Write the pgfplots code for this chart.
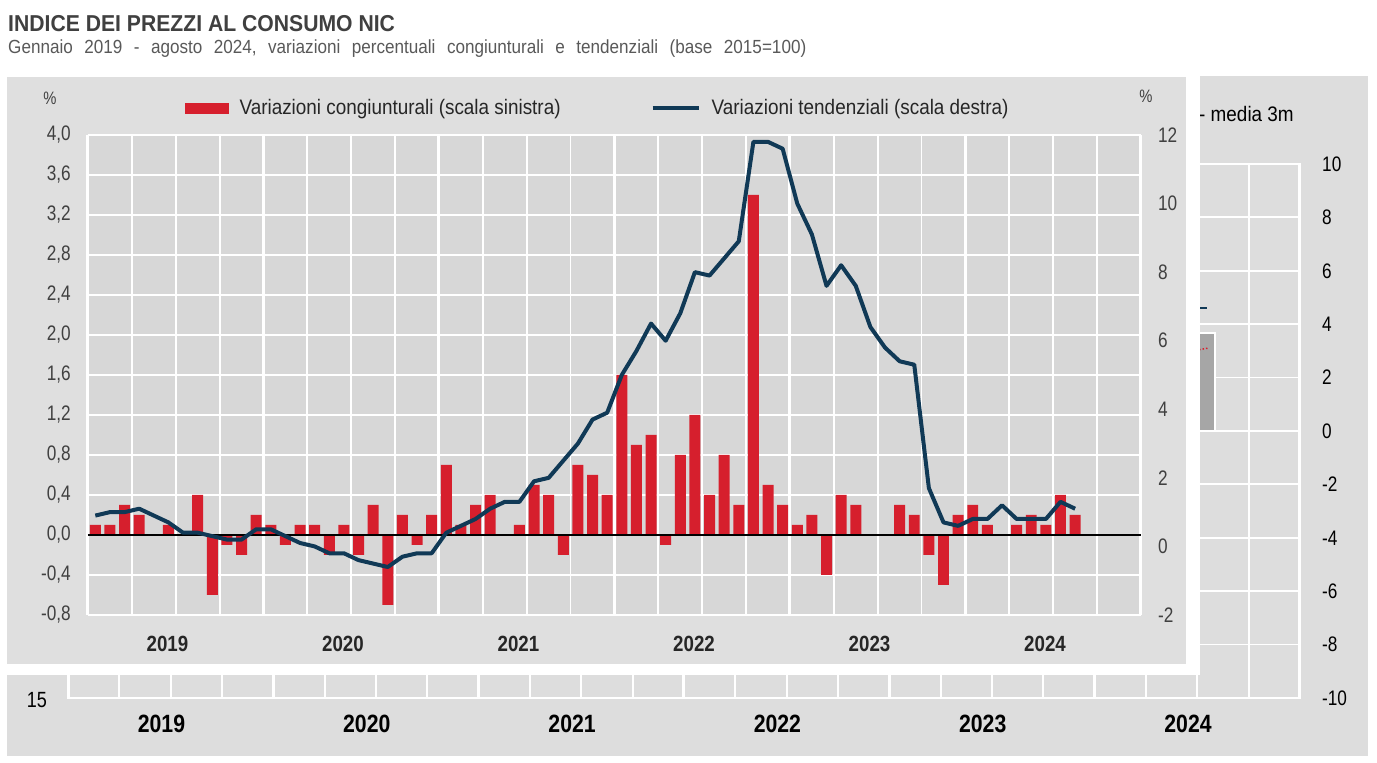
\documentclass[border=0pt]{standalone}
\usepackage{pgfplots}
\usepackage{pgfplotstable}
\pgfplotsset{compat=1.18}
\usepackage{fontspec}
\setmainfont{Liberation Sans}
\newfontfamily\fnar{Liberation Sans}[FakeStretch=0.82]
\newfontfamily\fmid{Liberation Sans}[FakeStretch=0.9]
\newfontfamily\ftit{Liberation Sans}[FakeStretch=0.92]
\newfontfamily\fsub{Liberation Sans}[FakeStretch=0.9]
\newfontfamily\fyr{Liberation Sans}[FakeStretch=0.85]
\definecolor{ired}{RGB}{214,31,45}
\definecolor{inavy}{RGB}{16,57,86}
\definecolor{mainpanel}{RGB}{223,223,223}
\definecolor{plotbg}{RGB}{215,215,215}
\definecolor{bgpanel}{RGB}{221,221,221}
\definecolor{bgbar}{RGB}{166,166,166}
\definecolor{ticktext}{RGB}{64,64,64}
\definecolor{titletext}{RGB}{64,64,64}
\definecolor{subtext}{RGB}{89,89,89}
\definecolor{yeartext}{RGB}{38,38,38}
\definecolor{legtext}{RGB}{38,38,38}

\pgfplotstableread{
x cong tend
0.5 0.1 0.9
1.5 0.1 1.0
2.5 0.3 1.0
3.5 0.2 1.1
4.5 0.0 0.9
5.5 0.1 0.7
6.5 0.0 0.4
7.5 0.4 0.4
8.5 -0.6 0.3
9.5 -0.1 0.2
10.5 -0.2 0.2
11.5 0.2 0.5
12.5 0.1 0.5
13.5 -0.1 0.3
14.5 0.1 0.1
15.5 0.1 0.0
16.5 -0.2 -0.2
17.5 0.1 -0.2
18.5 -0.2 -0.4
19.5 0.3 -0.5
20.5 -0.7 -0.6
21.5 0.2 -0.3
22.5 -0.1 -0.2
23.5 0.2 -0.2
24.5 0.7 0.4
25.5 0.1 0.6
26.5 0.3 0.8
27.5 0.4 1.1
28.5 0.0 1.3
29.5 0.1 1.3
30.5 0.5 1.9
31.5 0.4 2.0
32.5 -0.2 2.5
33.5 0.7 3.0
34.5 0.6 3.7
35.5 0.4 3.9
36.5 1.6 5.0
37.5 0.9 5.7
38.5 1.0 6.5
39.5 -0.1 6.0
40.5 0.8 6.8
41.5 1.2 8.0
42.5 0.4 7.9
43.5 0.8 8.4
44.5 0.3 8.9
45.5 3.4 11.8
46.5 0.5 11.8
47.5 0.3 11.6
48.5 0.1 10.0
49.5 0.2 9.1
50.5 -0.4 7.6
51.5 0.4 8.2
52.5 0.3 7.6
53.5 0.0 6.4
54.5 0.0 5.8
55.5 0.3 5.4
56.5 0.2 5.3
57.5 -0.2 1.7
58.5 -0.5 0.7
59.5 0.2 0.6
60.5 0.3 0.8
61.5 0.1 0.8
62.5 0.0 1.2
63.5 0.1 0.8
64.5 0.2 0.8
65.5 0.1 0.8
66.5 0.4 1.3
67.5 0.2 1.1
}\datatab

\begin{document}
\begin{tikzpicture}
\fill[white] (0pt,0pt) rectangle (1377pt,763pt);
\fill[bgpanel] (7pt,7pt) rectangle (1368pt,687pt);

% background (occluded) chart
\begin{axis}[at={(68pt,65pt)}, anchor=south west, scale only axis, width=1232pt, height=534pt,
  xmin=0, xmax=24, ymin=-10, ymax=10,
  axis background/.style={fill=bgpanel},
  axis line style={draw=white, line width=2.4pt},
  major tick length=0pt,
  xtick={0,1,...,24}, xticklabels={}, xmajorgrids,
  extra x ticks={0,4,...,24}, extra x tick labels={},
  extra x tick style={grid=major, major grid style={white, line width=3pt}},
  ytick={-10,-8,...,10}, ymajorgrids, yticklabel pos=right,
  major grid style={white, line width=1.8pt},
  yticklabel style={font=\fnar\fontsize{21}{21}\selectfont, text=black, anchor=west, inner sep=0pt, xshift=22pt},
  /pgf/number format/assume math mode=true]
\addplot[ybar, bar width=0.59, bar shift=0pt, fill=bgbar, draw=white, line width=1.5pt] coordinates {(22.05,3.67)};
\addplot[inavy, line width=2pt] coordinates {(21.9,4.6) (22.19,4.6)};
\addplot[ired, line width=1.5pt, dotted] coordinates {(21.9,3.0) (22.2,3.1)};
\end{axis}
\node[anchor=west, inner sep=0pt] at (1199pt,648.5pt) {\fmid\fontsize{21}{21}\selectfont - media 3m};
\node[inner sep=0pt] at (37pt,63pt) {\fnar\fontsize{22}{22}\selectfont 15};
\foreach \yr [count=\k from 0] in {2019,2020,2021,2022,2023,2024}
  \node[inner sep=0pt, text=black] at ({161.5pt+205.3pt*\k},39pt) {\fyr\bfseries\fontsize{25}{25}\selectfont \yr};

% white gap and main panel
\fill[white] (0pt,88pt) rectangle (1200pt,763pt);
\fill[mainpanel] (7pt,99pt) rectangle (1186pt,686pt);

% main chart: bars (left scale)
\begin{axis}[at={(88pt,148pt)}, anchor=south west, scale only axis, width=1053pt, height=480pt,
  xmin=0, xmax=72, ymin=-0.8, ymax=4.0,
  axis background/.style={fill=plotbg},
  axis line style={draw=none},
  major tick length=0pt,
  xtick={0,3,...,72}, xticklabels={}, xmajorgrids,
  extra x ticks={0,12,...,72}, extra x tick labels={},
  extra x tick style={grid=major, major grid style={white, line width=3pt}},
  ytick={-0.8,-0.4,0,0.4,0.8,1.2,1.6,2.0,2.4,2.8,3.2,3.6,4.0}, ymajorgrids,
  major grid style={white, line width=1.8pt},
  yticklabel style={font=\fnar\fontsize{21}{21}\selectfont, text=ticktext, anchor=east, inner sep=0pt, xshift=-17pt},
  /pgf/number format/fixed, /pgf/number format/fixed zerofill, /pgf/number format/precision=1,
  /pgf/number format/use comma, /pgf/number format/assume math mode=true]
\addplot[ybar, bar width=0.75, bar shift=0pt, fill=ired, draw=none] table[x=x, y=cong] {\datatab};
\draw[black, line width=1.4pt] (axis cs:0,0) -- (axis cs:72,0);
\end{axis}

% main chart: line (right scale)
\begin{axis}[at={(88pt,148pt)}, anchor=south west, scale only axis, width=1053pt, height=480pt,
  xmin=0, xmax=72, ymin=-2, ymax=12,
  hide x axis, axis y line*=right, axis line style={draw=none},
  major tick length=0pt,
  ytick={-2,0,...,12},
  yticklabel style={font=\fnar\fontsize{21}{21}\selectfont, text=ticktext, anchor=west, inner sep=0pt, xshift=17pt},
  /pgf/number format/assume math mode=true,
  legend columns=2, legend cell align=left,
  legend style={at={(axis description cs:0.0921,1.0566)}, anchor=west, draw=none, fill=none, inner sep=0pt,
    font=\fmid\fontsize{21}{21}\selectfont, text=legtext,
    /tikz/every odd column/.append style={column sep=9pt},
    /tikz/every even column/.append style={column sep=88pt}}]
\addlegendimage{legend image code/.code={\fill[ired] (0pt,-5pt) rectangle (43pt,5pt);}}
\addlegendentry{Variazioni congiunturali (scala sinistra)}
\addplot[inavy, line width=4pt, line join=round,
  legend image code/.code={\draw[inavy, line width=4pt] (0pt,0pt) -- (46pt,0pt);}] table[x=x, y=tend] {\datatab};
\addlegendentry{Variazioni tendenziali (scala destra)}
\end{axis}

% labels
\node[inner sep=0pt, text=ticktext] at (50pt,665pt) {\fnar\fontsize{18}{18}\selectfont \%};
\node[inner sep=0pt, text=ticktext] at (1146pt,666.5pt) {\fnar\fontsize{18}{18}\selectfont \%};
\foreach \yr [count=\k from 0] in {2019,2020,2021,2022,2023,2024}
  \node[inner sep=0pt, text=yeartext] at ({167.5pt+175.5pt*\k},119.5pt) {\fyr\bfseries\fontsize{22}{22}\selectfont \yr};
\node[anchor=base west, inner sep=0pt, text=titletext] at (8pt,731.3pt) {\ftit\bfseries\fontsize{23}{23}\selectfont INDICE DEI PREZZI AL CONSUMO NIC};
\node[anchor=base west, inner sep=0pt, text=subtext] at (8pt,709.7pt) {\fsub\fontsize{19}{19}\selectfont\spaceskip=11.5pt Gennaio 2019 - agosto 2024, variazioni percentuali congiunturali e tendenziali (base 2015=100)};
\pgfresetboundingbox
\path[use as bounding box] (0pt,0pt) rectangle (1377pt,763pt);
\end{tikzpicture}
\end{document}
